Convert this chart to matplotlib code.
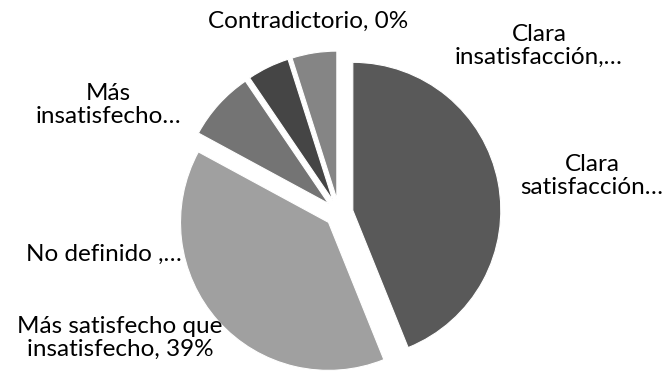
import matplotlib
matplotlib.use("Agg")
import matplotlib.pyplot as plt

plt.rcParams['font.family'] = ['Lato', 'DejaVu Sans']

# porcentajes por categoría, en sentido horario desde las 12
categorias = ['Clara satisfacción', 'Más satisfecho que insatisfecho',
              'Más insatisfecho que satisfecho', 'No definido',
              'Clara insatisfacción', 'Contradictorio']
porcentajes = [43.9, 39.0, 7.6, 4.6, 4.9, 0.0]
colores = ['#595959', '#a0a0a0', '#747474', '#454545', '#858585', '#bcbcbc']

# textos de las etiquetas tal como salen en el gráfico (recortados)
etiquetas = ['Clara\nsatisfacción…', 'Más satisfecho que\ninsatisfecho, 39%',
             'Más\ninsatisfecho…', 'No definido ,…',
             'Clara\ninsatisfacción,…', 'Contradictorio, 0%']
pos_etiquetas = [(592, 176), (120, 338), (108, 105), (104, 254),
                 (539, 46), (308, 21)]

W, H = 667, 372
radio = 148
fig = plt.figure(figsize=(W / 100, H / 100), dpi=100)
ax = fig.add_axes([0, 0, 1, 1])

# explode va en unidades de datos, no en fracción del radio
ax.pie(porcentajes, colors=colores, startangle=90, counterclock=False,
       center=(339, H - 213), radius=radio,
       explode=[0.095 * radio] * len(porcentajes),
       wedgeprops=dict(edgecolor='white', linewidth=0.8), frame=True)
ax.set_xlim(0, W)
ax.set_ylim(0, H)
ax.axis('off')

for txt, (x, y) in zip(etiquetas, pos_etiquetas):
    ax.text(x, H - y, txt, ha='center', va='center', fontsize=17.5,
            color='#000000', linespacing=1.15)

fig.savefig('out.png', dpi=100)
